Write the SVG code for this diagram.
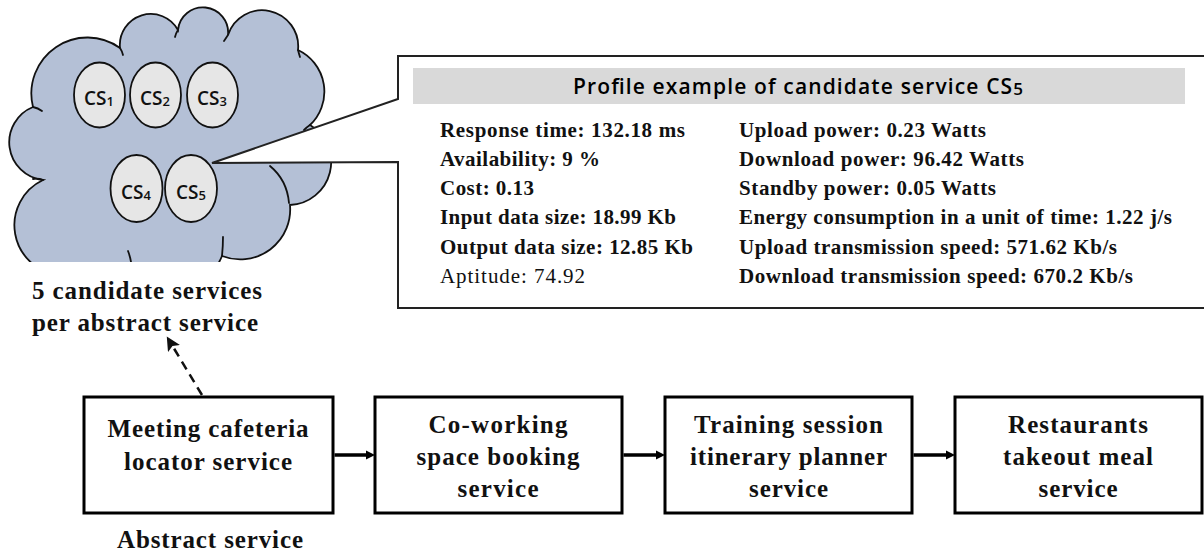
<svg xmlns="http://www.w3.org/2000/svg" width="1204" height="552" viewBox="0 0 1204 552">
  <style>
    .cloud { fill: #b4c0d6; stroke: #111; stroke-width: 1.8; }
    .inner { fill: none; stroke: #111; stroke-width: 1.8; stroke-linecap: round; }
    .cs { fill: #e6e6e6; stroke: #111; stroke-width: 1.8; }
    .cslabel { font-family: "Open Sans", Lato, sans-serif; font-weight: 600; font-size: 19px; fill: #111; text-anchor: middle; }
    .sub { font-size: 13px; }
    .callout { fill: #fff; stroke: #222; stroke-width: 2; }
    .bar { fill: #d9d9d9; }
    .head { font-family: "Open Sans", Lato, sans-serif; font-weight: 600; font-size: 21px; fill: #000; }
    .pv { font-family: "Liberation Serif", "Times New Roman", serif; font-weight: bold; font-size: 21px; fill: #111; }
    .pv.reg { font-weight: normal; }
    .box { fill: #fff; stroke: #000; stroke-width: 3; }
    .lbl { font-family: "Liberation Serif", "Times New Roman", serif; font-weight: bold; font-size: 25px; fill: #111; text-anchor: middle; }
    .note { font-family: "Liberation Serif", "Times New Roman", serif; font-weight: bold; font-size: 25px; fill: #111; }
    .flow { stroke: #000; stroke-width: 3.5; fill: none; }
    .dash { stroke: #111; stroke-width: 2.5; fill: none; stroke-dasharray: 9 6; }
  </style>
  <defs>
    <clipPath id="cloudClip">
      <rect x="0" y="0" width="400" height="262"/>
    </clipPath>
    <marker id="flowHead" markerUnits="userSpaceOnUse" markerWidth="10" markerHeight="10" refX="0" refY="5" orient="auto">
      <path d="M0,0.5 L9,5 L0,9.5 Z" fill="#000"/>
    </marker>
    <marker id="dashHead" markerUnits="userSpaceOnUse" markerWidth="15" markerHeight="14" refX="0" refY="7" orient="auto">
      <path d="M0,0 L14,7 L0,14 L3,7 Z" fill="#111"/>
    </marker>
  </defs>

  <rect width="1204" height="552" fill="#fff"/>

  <!-- cloud of candidate services -->
  <g id="cloud" clip-path="url(#cloudClip)">
    <path class="cloud" d="M 60,275 A 50 50 0 0 1 43,180 A 38 38 0 0 1 33,107 A 56 56 0 0 1 120,48 A 31 31 0 0 1 178,30 A 25 25 0 0 1 228,35 A 36 36 0 0 1 298,50 A 46 46 0 0 1 310,125 A 43 43 0 0 1 290,205 A 50 50 0 0 1 222,256 A 55 55 0 0 1 130,272 A 50 50 0 0 1 60,275 Z"/>
    <path class="inner" d="M 33,107 Q 38,108 42,111"/>
    <path class="inner" d="M 43,180 Q 38,178 33,179"/>
    <path class="inner" d="M 120,48 Q 122,51 123,55"/>
    <path class="inner" d="M 178,30 Q 176,33 175,37"/>
    <path class="inner" d="M 228,35 Q 226,38 224,41"/>
    <path class="inner" d="M 298,50 Q 299,54 300,57"/>
    <path class="inner" d="M 310,125 Q 307,127 304,130"/>
    <path class="inner" d="M 270,166 Q 287,180 289,203"/>
    <path class="inner" d="M 222,256 Q 223,246 223,237"/>
    <path class="inner" d="M 128,251 Q 130,256 131,262"/>
  </g>

  <!-- profile callout of CS5 -->
  <g id="profile">
    <polygon class="callout" points="398,56 1215,56 1215,308 398,308 398,162 212,163 398,99"/>
    <rect class="bar" x="413" y="68" width="772" height="36"/>
    <text class="head" x="573" y="94" textLength="450" lengthAdjust="spacing">Profile example of candidate service CS<tspan font-size="17" dy="1">5</tspan></text>
    <text class="pv" x="440" y="137" textLength="245" lengthAdjust="spacing">Response time: 132.18 ms</text>
    <text class="pv" x="440" y="166" textLength="160" lengthAdjust="spacing">Availability: 9 %</text>
    <text class="pv" x="440" y="195" textLength="94" lengthAdjust="spacing">Cost: 0.13</text>
    <text class="pv" x="440" y="224" textLength="236" lengthAdjust="spacing">Input data size: 18.99 Kb</text>
    <text class="pv" x="440" y="254" textLength="253" lengthAdjust="spacing">Output data size: 12.85 Kb</text>
    <text class="pv reg" x="440" y="283" textLength="145" lengthAdjust="spacing">Aptitude: 74.92</text>
    <text class="pv" x="739" y="137" textLength="247" lengthAdjust="spacing">Upload power: 0.23 Watts</text>
    <text class="pv" x="739" y="166" textLength="285" lengthAdjust="spacing">Download power: 96.42 Watts</text>
    <text class="pv" x="739" y="195" textLength="257" lengthAdjust="spacing">Standby power: 0.05 Watts</text>
    <text class="pv" x="739" y="224" textLength="433" lengthAdjust="spacing">Energy consumption in a unit of time: 1.22 j/s</text>
    <text class="pv" x="739" y="254" textLength="378" lengthAdjust="spacing">Upload transmission speed: 571.62 Kb/s</text>
    <text class="pv" x="739" y="283" textLength="394" lengthAdjust="spacing">Download transmission speed: 670.2 Kb/s</text>
  </g>

  <!-- candidate services -->
  <g id="cs1">
    <ellipse class="cs" cx="99.5" cy="95" rx="25.5" ry="32.5"/>
    <text class="cslabel" x="99" y="105">CS<tspan class="sub" dy="1">1</tspan></text>
  </g>
  <g id="cs2">
    <ellipse class="cs" cx="155.5" cy="95" rx="25.5" ry="32.5"/>
    <text class="cslabel" x="155" y="105">CS<tspan class="sub" dy="1">2</tspan></text>
  </g>
  <g id="cs3">
    <ellipse class="cs" cx="212.5" cy="95" rx="25.5" ry="32.5"/>
    <text class="cslabel" x="212" y="105">CS<tspan class="sub" dy="1">3</tspan></text>
  </g>
  <g id="cs4">
    <ellipse class="cs" cx="136.5" cy="188.5" rx="26" ry="33.5"/>
    <text class="cslabel" x="136" y="199">CS<tspan class="sub" dy="1">4</tspan></text>
  </g>
  <g id="cs5">
    <ellipse class="cs" cx="191" cy="188.5" rx="26" ry="33.5"/>
    <text class="cslabel" x="191" y="199">CS<tspan class="sub" dy="1">5</tspan></text>
  </g>

  <!-- captions -->
  <g id="candidates-caption">
    <text class="note" x="32" y="299" textLength="230" lengthAdjust="spacing">5 candidate services</text>
    <text class="note" x="32" y="331" textLength="226" lengthAdjust="spacing">per abstract service</text>
  </g>
  <g id="abstract-caption">
    <text class="note" x="117" y="548" textLength="186" lengthAdjust="spacing">Abstract service</text>
  </g>

  <!-- abstract services -->
  <g id="svc-meeting">
    <rect class="box" x="84" y="397" width="249" height="116"/>
    <text class="lbl" x="208" y="437" textLength="201" lengthAdjust="spacing">Meeting cafeteria</text>
    <text class="lbl" x="208" y="470" textLength="168" lengthAdjust="spacing">locator service</text>
  </g>
  <g id="svc-coworking">
    <rect class="box" x="375" y="397" width="247" height="116"/>
    <text class="lbl" x="498" y="433" textLength="139" lengthAdjust="spacing">Co-working</text>
    <text class="lbl" x="498" y="465" textLength="163" lengthAdjust="spacing">space booking</text>
    <text class="lbl" x="498" y="497" textLength="81" lengthAdjust="spacing">service</text>
  </g>
  <g id="svc-training">
    <rect class="box" x="665" y="397" width="247" height="116"/>
    <text class="lbl" x="788.5" y="433" textLength="189" lengthAdjust="spacing">Training session</text>
    <text class="lbl" x="788.5" y="465" textLength="197" lengthAdjust="spacing">itinerary planner</text>
    <text class="lbl" x="788.5" y="497" textLength="79" lengthAdjust="spacing">service</text>
  </g>
  <g id="svc-restaurants">
    <rect class="box" x="955" y="397" width="247" height="116"/>
    <text class="lbl" x="1078" y="433" textLength="140" lengthAdjust="spacing">Restaurants</text>
    <text class="lbl" x="1078" y="465" textLength="150" lengthAdjust="spacing">takeout meal</text>
    <text class="lbl" x="1078" y="497" textLength="79" lengthAdjust="spacing">service</text>
  </g>

  <!-- connectors -->
  <g id="connectors">
    <line class="flow" x1="334.5" y1="455" x2="366" y2="455" marker-end="url(#flowHead)"/>
    <line class="flow" x1="623.5" y1="455" x2="656" y2="455" marker-end="url(#flowHead)"/>
    <line class="flow" x1="913.5" y1="455" x2="946" y2="455" marker-end="url(#flowHead)"/>
    <line class="dash" x1="202" y1="395" x2="174" y2="348.5" marker-end="url(#dashHead)"/>
  </g>
</svg>
